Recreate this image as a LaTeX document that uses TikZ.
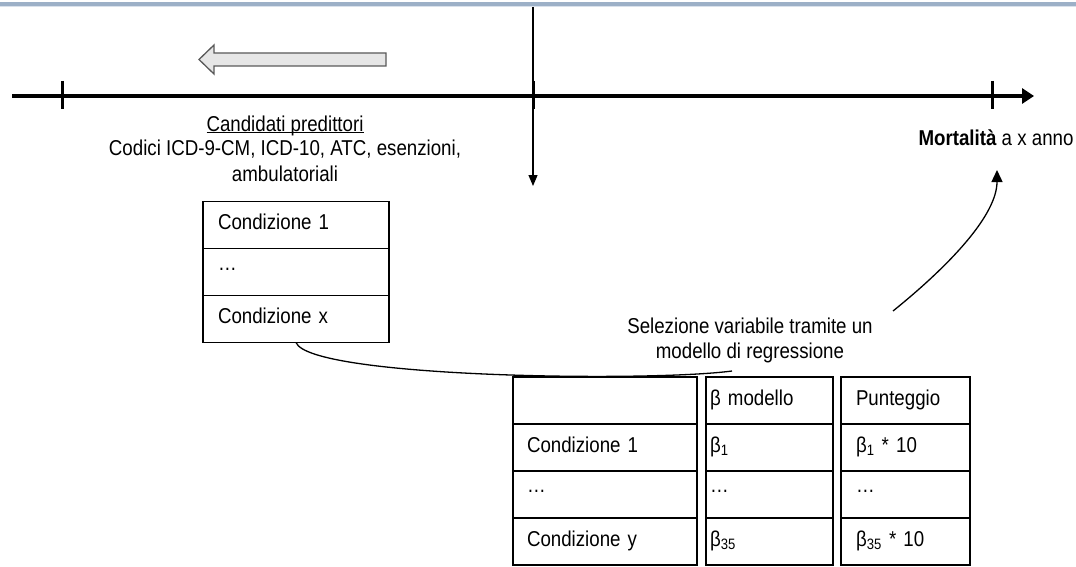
\documentclass[tikz,border=0pt]{standalone}
\usepackage{fontspec}
\setmainfont[FakeStretch=0.87]{Liberation Sans}
\usepackage{xcolor}
\usepackage{tikz}
\usetikzlibrary{arrows.meta}
\usetikzlibrary{positioning}
\definecolor{barblue}{HTML}{9CB0C7}
\definecolor{barpale}{HTML}{D9E1EB}
\definecolor{arrowfill}{HTML}{E6E6E6}

\begin{document}
\begin{tikzpicture}[
        x=1pt, y=-1pt,
        font=\fontsize{21.5}{25}\selectfont,
        text depth=0cm,
        cell/.style={draw, line width=1.4pt, outer sep=0pt, minimum height=47pt,
            inner ysep=0pt, text depth=6pt, align=left},
        condcell/.style={cell, text width=156pt, inner xsep=15pt},
        labcell/.style={cell, text width=156pt, inner xsep=14pt},
        betacell/.style={cell, text width=119pt, inner xsep=4pt},
        scorecell/.style={cell, text width=99pt, inner xsep=15pt},
        timeline/.style={line width=4.5pt, -{Triangle[length=12pt,width=15pt]}},
        tick/.style={line width=3pt},
        curve/.style={line width=1.3pt},
        blockarrow/.style={fill=arrowfill, draw=black!65, line width=1.3pt, line join=miter},
        ]
        \useasboundingbox (0,0) rectangle (1076,567);
        \fill[barblue] (0,2.5) rectangle (1076,6);
        \fill[barpale] (0,6) rectangle (1076,7.5);

        \coordinate (tstart) at (12,96);
        \coordinate (tend) at (1034,96);
        \coordinate (t0) at (62,96);
        \coordinate (t1) at (533,96);
        \coordinate (t2) at (992,96);
        \draw[timeline] (tstart) -- (tend);
        \foreach \t in {t0,t1,t2}
            \draw[tick] ([yshift=15pt]\t) -- ([yshift=-13pt]\t);

        \coordinate (cut) at (533,7);
        \coordinate (cutend) at (533,186);
        \draw[line width=1.2pt, -{Triangle[length=11pt,width=9pt]}] (cut) -- (cutend);

        \draw[blockarrow] (199,59.5) -- (214,45) -- (214,53) -- (386,53)
            -- (386,66) -- (214,66) -- (214,74) -- cycle;

        \node[align=center, anchor=base] (cand) at (285,181)
            {\underline{\smash{Candidati predittori}}\\Codici ICD-9-CM, ICD-10, ATC, esenzioni,\\ambulatoriali};

        \node[condcell] (cond1) at (296,225) {Condizione 1};
        \node[condcell, below=0pt of cond1] (conddots) {\dots};
        \node[condcell, below=0pt of conddots] (condx) {Condizione x};

        \node[anchor=west] (mort) at (915,138) {\textbf{Mortalità} a x anno};

        \node[align=center, anchor=base] (sel) at (750,358)
            {Selezione variabile tramite un\\modello di regressione};

        \node[labcell] (lab0) at (605,400.5) {};
        \node[labcell, below=0pt of lab0] (lab1) {Condizione 1};
        \node[labcell, below=0pt of lab1] (lab2) {\dots};
        \node[labcell, below=0pt of lab2] (lab3) {Condizione y};

        \node[betacell, right=9pt of lab0] (beta0) {β modello};
        \node[betacell, below=0pt of beta0] (beta1) {β\textsubscript{1}};
        \node[betacell, below=0pt of beta1] (beta2) {\dots};
        \node[betacell, below=0pt of beta2] (beta3) {β\textsubscript{35}};

        \node[scorecell, right=8pt of beta0] (score0) {Punteggio};
        \node[scorecell, below=0pt of score0] (score1) {β\textsubscript{1} * 10};
        \node[scorecell, below=0pt of score1] (score2) {\dots};
        \node[scorecell, below=0pt of score2] (score3) {β\textsubscript{35} * 10};

        \coordinate (selin) at (732,371);
        \coordinate (selout) at (893,311);
        \coordinate (morttip) at (997,170);
        \draw[curve] (condx.south) .. controls (310,378) and (650,382) .. (selin);
        \draw[curve, -{Triangle[length=12pt,width=11pt]}] (selout) .. controls (950,265) and (997,215) .. (morttip);
    \end{tikzpicture}
\end{document}
